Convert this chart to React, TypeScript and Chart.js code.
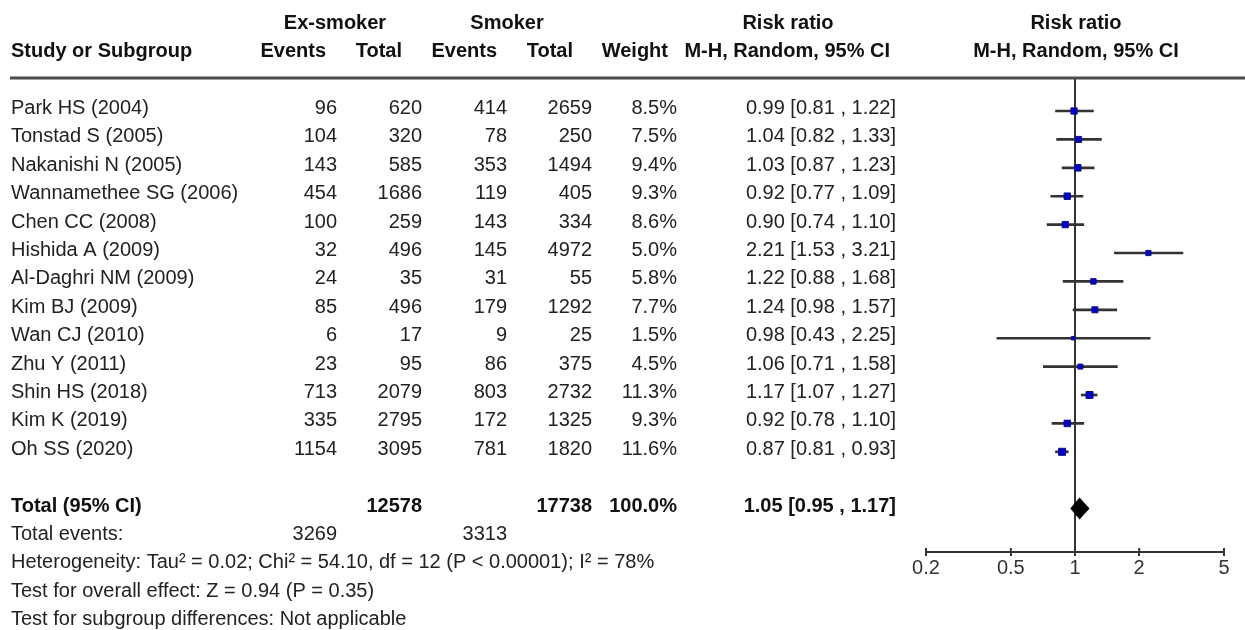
import React, { useEffect, useRef } from "react";
import { Chart, registerables } from "chart.js";

Chart.register(...registerables);

// Study rows
const studies = [
  "Park HS (2004)",
  "Tonstad S (2005)",
  "Nakanishi N (2005)",
  "Wannamethee SG (2006)",
  "Chen CC (2008)",
  "Hishida A (2009)",
  "Al-Daghri NM (2009)",
  "Kim BJ (2009)",
  "Wan CJ (2010)",
  "Zhu Y (2011)",
  "Shin HS (2018)",
  "Kim K (2019)",
  "Oh SS (2020)",
];
const exEvents = [96, 104, 143, 454, 100, 32, 24, 85, 6, 23, 713, 335, 1154];
const exTotal = [620, 320, 585, 1686, 259, 496, 35, 496, 17, 95, 2079, 2795, 3095];
const smEvents = [414, 78, 353, 119, 143, 145, 31, 179, 9, 86, 803, 172, 781];
const smTotal = [2659, 250, 1494, 405, 334, 4972, 55, 1292, 25, 375, 2732, 1325, 1820];
const weights = [8.5, 7.5, 9.4, 9.3, 8.6, 5.0, 5.8, 7.7, 1.5, 4.5, 11.3, 9.3, 11.6];
const riskRatio = [0.99, 1.04, 1.03, 0.92, 0.9, 2.21, 1.22, 1.24, 0.98, 1.06, 1.17, 0.92, 0.87];
const ciLower = [0.81, 0.82, 0.87, 0.77, 0.74, 1.53, 0.88, 0.98, 0.43, 0.71, 1.07, 0.78, 0.81];
const ciUpper = [1.22, 1.33, 1.23, 1.09, 1.1, 3.21, 1.68, 1.57, 2.25, 1.58, 1.27, 1.1, 0.93];

// Pooled result
const pooledRR = 1.05;
const pooledLower = 0.95;
const pooledUpper = 1.17;
const pooledExTotal = 12578;
const pooledSmTotal = 17738;
const pooledExEvents = 3269;
const pooledSmEvents = 3313;
const pooledWeight = 100.0;

// Axis ticks
const xTicks = [0.2, 0.5, 1, 2, 5];

// Footnotes
const footnotes = [
  "Heterogeneity: Tau\u00b2 = 0.02; Chi\u00b2 = 54.10, df = 12 (P < 0.00001); I\u00b2 = 78%",
  "Test for overall effect: Z = 0.94 (P = 0.35)",
  "Test for subgroup differences: Not applicable",
];

const FONT = '"Liberation Sans", Arial, Helvetica, sans-serif';
const TEXT = "#222";
const LINE = "#333";
const TOTAL_ROW = studies.length + 1;

const fmt2 = (v: number) => v.toFixed(2);
const ciText = (m: number, lo: number, hi: number) => `${fmt2(m)} [${fmt2(lo)} , ${fmt2(hi)}]`;

const tablePlugin = {
  id: "forestTable",
  beforeDatasetsDraw(chart: any) {
    const { ctx, chartArea, scales } = chart;
    const x1 = scales.x.getPixelForValue(1);
    ctx.save();
    // header rule
    ctx.fillStyle = "#4d4d4d";
    ctx.fillRect(10, chartArea.top - 2.5, 1235, 3);
    // line of no effect
    ctx.strokeStyle = LINE;
    ctx.lineWidth = 2;
    ctx.beginPath();
    ctx.moveTo(x1, chartArea.top);
    ctx.lineTo(x1, chartArea.bottom);
    ctx.stroke();
    ctx.restore();
  },
  afterDatasetsDraw(chart: any) {
    const { ctx, scales } = chart;
    const xs = scales.x;
    const ys = scales.y;
    const rowY = (i: number) => ys.getPixelForValue(i) - 2.5;
    const put = (s: string, x: number, y: number, align: CanvasTextAlign, bold = false) => {
      ctx.font = `${bold ? "bold " : ""}20px ${FONT}`;
      ctx.textAlign = align;
      ctx.textBaseline = "middle";
      ctx.fillText(s, x, y);
    };
    ctx.save();
    ctx.fillStyle = "#111";
    const x1 = xs.getPixelForValue(1) + 1;

    // two-line header
    const h1 = rowY(-3);
    put("Ex-smoker", 335, h1, "center", true);
    put("Smoker", 507, h1, "center", true);
    put("Risk ratio", 788, h1, "center", true);
    put("Risk ratio", x1, h1, "center", true);
    const h2 = rowY(-2);
    put("Study or Subgroup", 11, h2, "left", true);
    put("Events", 326, h2, "right", true);
    put("Total", 402, h2, "right", true);
    put("Events", 497, h2, "right", true);
    put("Total", 573, h2, "right", true);
    put("Weight", 668, h2, "right", true);
    put("M-H, Random, 95% CI", 890, h2, "right", true);
    put("M-H, Random, 95% CI", x1, h2, "center", true);

    // study rows
    ctx.fillStyle = TEXT;
    studies.forEach((name, i) => {
      const y = rowY(i);
      put(name, 11, y, "left");
      put(String(exEvents[i]), 337, y, "right");
      put(String(exTotal[i]), 422, y, "right");
      put(String(smEvents[i]), 507, y, "right");
      put(String(smTotal[i]), 592, y, "right");
      put(`${weights[i].toFixed(1)}%`, 677, y, "right");
      put(ciText(riskRatio[i], ciLower[i], ciUpper[i]), 896, y, "right");
    });

    // pooled row
    ctx.fillStyle = "#111";
    const yt = rowY(TOTAL_ROW);
    put("Total (95% CI)", 11, yt, "left", true);
    put(String(pooledExTotal), 422, yt, "right", true);
    put(String(pooledSmTotal), 592, yt, "right", true);
    put(`${pooledWeight.toFixed(1)}%`, 677, yt, "right", true);
    put(ciText(pooledRR, pooledLower, pooledUpper), 896, yt, "right", true);

    ctx.fillStyle = TEXT;
    const ye = rowY(TOTAL_ROW + 1);
    put("Total events:", 11, ye, "left");
    put(String(pooledExEvents), 337, ye, "right");
    put(String(pooledSmEvents), 507, ye, "right");
    footnotes.forEach((s, k) => put(s, 11, rowY(TOTAL_ROW + 2 + k), "left"));

    // pooled diamond
    const cx = xs.getPixelForValue(pooledRR);
    const lx = xs.getPixelForValue(pooledLower);
    const rx = xs.getPixelForValue(pooledUpper);
    const cy = ys.getPixelForValue(TOTAL_ROW);
    ctx.fillStyle = "#000";
    ctx.beginPath();
    ctx.moveTo(lx, cy);
    ctx.lineTo(cx, cy - 11);
    ctx.lineTo(rx, cy);
    ctx.lineTo(cx, cy + 11);
    ctx.closePath();
    ctx.fill();
    ctx.restore();
  },
  afterDraw(chart: any) {
    // upper half of the axis tick marks
    const { ctx, chartArea, scales } = chart;
    ctx.save();
    ctx.strokeStyle = LINE;
    ctx.lineWidth = 2;
    xTicks.forEach((v) => {
      const px = scales.x.getPixelForValue(v);
      ctx.beginPath();
      ctx.moveTo(px, chartArea.bottom - 4);
      ctx.lineTo(px, chartArea.bottom);
      ctx.stroke();
    });
    ctx.restore();
  },
};

export default function App() {
  const canvasRef = useRef<HTMLCanvasElement | null>(null);

  useEffect(() => {
    const canvas = canvasRef.current;
    if (!canvas) return;
    const markerRadius = weights.map((w) => (1.6 + 1.6 * Math.sqrt(w)) / 2 / Math.SQRT1_2);
    const chart = new Chart(canvas, {
      type: "scatter",
      data: {
        datasets: [
          {
            type: "scatter",
            data: riskRatio.map((v, i) => ({ x: v, y: i })),
            pointStyle: "rect",
            pointRadius: markerRadius,
            backgroundColor: "#0000d0",
            borderColor: "#10107a",
            borderWidth: 1,
            order: 1,
          } as any,
          {
            type: "bar",
            indexAxis: "y",
            data: ciLower.map((lo, i) => ({ x: [lo, ciUpper[i]], y: i })),
            barThickness: 2,
            backgroundColor: LINE,
            borderWidth: 0,
            order: 2,
          } as any,
        ],
      },
      options: {
        responsive: false,
        animation: false,
        events: [],
        layout: { padding: { left: 926, right: 21, top: 79, bottom: 38 } },
        plugins: { legend: { display: false }, tooltip: { enabled: false } },
        scales: {
          x: {
            type: "logarithmic",
            min: 0.2,
            max: 5,
            position: "bottom",
            offset: false,
            afterBuildTicks: (s: any) => {
              s.ticks = xTicks.map((v) => ({ value: v }));
            },
            afterFit: (s: any) => {
              s.height = 40;
            },
            grid: { offset: false, drawOnChartArea: false, drawTicks: true, tickLength: 4, color: LINE, lineWidth: 2 },
            border: { display: true, color: LINE, width: 2 },
            ticks: {
              color: "#333",
              font: { family: FONT, size: 20 },
              padding: 0,
              autoSkip: false,
              maxRotation: 0,
              callback: (v: any) => String(v),
            },
          },
          y: {
            type: "linear",
            display: false,
            reverse: true,
            offset: false,
            grid: { offset: false },
            min: -1.127,
            max: 15.528,
          },
        },
      },
      plugins: [tablePlugin],
    } as any);
    return () => chart.destroy();
  }, []);

  return (
    <div style={{ position: "absolute", left: 0, top: 0, width: 1245, height: 630, background: "#fff" }}>
      <canvas ref={canvasRef} width={1245} height={630} style={{ display: "block" }} />
    </div>
  );
}
